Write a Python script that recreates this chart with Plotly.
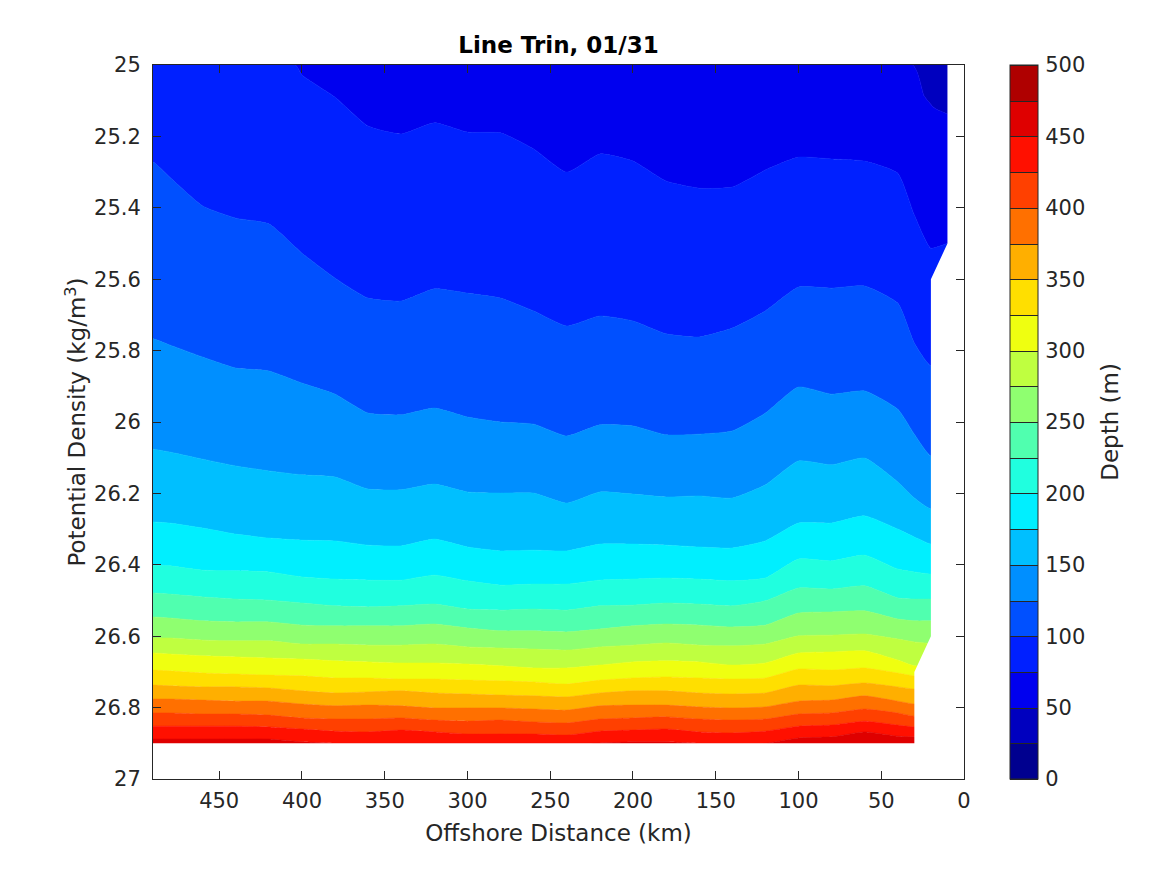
import plotly.graph_objects as go

# Offshore stations (km)
km = [490, 480, 460, 440, 420, 400, 380, 360, 340, 320, 300, 280, 260, 240, 220,
      200, 180, 160, 140, 120, 100, 80, 60, 40, 30, 20, 10]
km_top = [490, 10]
km_50 = [490, 31, 24, 18, 10]
km_75 = [490, 404] + km[5:]

# Potential density of each depth contour at the stations
iso_top = [25.0, 25.0]
iso_50 = [25.0, 25.0, 25.087, 25.12, 25.137]
iso_75 = [25.0, 25.0, 25.028, 25.09, 25.171, 25.193, 25.162, 25.188, 25.19, 25.235, 25.30, 25.249,
          25.269, 25.325, 25.345, 25.342, 25.294, 25.258, 25.263, 25.269, 25.303, 25.42, 25.513, 25.50]
iso_100 = [25.272, 25.314, 25.395, 25.429, 25.445, 25.527, 25.597, 25.653, 25.661, 25.627, 25.639, 25.653, 25.689,
           25.731, 25.703, 25.717, 25.753, 25.762, 25.737, 25.689, 25.622, 25.625, 25.619, 25.667, 25.779, 25.843]
iso_125 = [25.767, 25.784, 25.818, 25.849, 25.857, 25.891, 25.922, 25.975, 25.98, 25.961, 25.986, 26.0, 26.006,
           26.039, 26.008, 26.011, 26.036, 26.034, 26.025, 25.975, 25.902, 25.922, 25.913, 25.964, 26.034, 26.095]
iso_150 = [26.076, 26.084, 26.104, 26.123, 26.137, 26.148, 26.154, 26.188, 26.19, 26.174, 26.196, 26.199, 26.199,
           26.227, 26.196, 26.202, 26.21, 26.207, 26.213, 26.176, 26.109, 26.12, 26.101, 26.168, 26.213, 26.244]
iso_175 = [26.28, 26.283, 26.297, 26.314, 26.325, 26.331, 26.333, 26.345, 26.347, 26.328, 26.35, 26.361, 26.359,
           26.361, 26.342, 26.342, 26.345, 26.35, 26.353, 26.333, 26.283, 26.283, 26.263, 26.30, 26.322, 26.342]
iso_200 = [26.401, 26.403, 26.415, 26.417, 26.42, 26.434, 26.44, 26.443, 26.443, 26.429, 26.445, 26.457, 26.454,
           26.454, 26.443, 26.44, 26.437, 26.44, 26.445, 26.437, 26.384, 26.389, 26.373, 26.412, 26.42, 26.426]
iso_225 = [26.479, 26.482, 26.49, 26.496, 26.499, 26.507, 26.515, 26.518, 26.515, 26.51, 26.524, 26.527, 26.524,
           26.527, 26.515, 26.513, 26.507, 26.51, 26.515, 26.501, 26.465, 26.468, 26.459, 26.493, 26.496, 26.496]
iso_250 = [26.546, 26.549, 26.557, 26.56, 26.56, 26.569, 26.571, 26.571, 26.571, 26.566, 26.577, 26.585, 26.585,
           26.588, 26.58, 26.571, 26.566, 26.569, 26.574, 26.569, 26.535, 26.532, 26.529, 26.552, 26.557, 26.557]
iso_275 = [26.605, 26.605, 26.611, 26.613, 26.613, 26.622, 26.622, 26.625, 26.625, 26.622, 26.63, 26.633, 26.636,
           26.639, 26.63, 26.625, 26.619, 26.625, 26.627, 26.622, 26.599, 26.597, 26.594, 26.608, 26.616, 26.62]
iso_300 = [26.647, 26.65, 26.655, 26.658, 26.661, 26.664, 26.669, 26.672, 26.675, 26.675, 26.678, 26.683, 26.689,
           26.689, 26.681, 26.672, 26.669, 26.672, 26.681, 26.675, 26.647, 26.644, 26.641, 26.667, 26.683]
iso_325 = [26.695, 26.697, 26.703, 26.706, 26.709, 26.711, 26.717, 26.717, 26.72, 26.72, 26.723, 26.725, 26.728,
           26.734, 26.723, 26.717, 26.714, 26.717, 26.72, 26.717, 26.692, 26.695, 26.689, 26.703, 26.711]
iso_350 = [26.737, 26.739, 26.742, 26.742, 26.745, 26.753, 26.759, 26.756, 26.753, 26.759, 26.762, 26.765, 26.767,
           26.77, 26.759, 26.753, 26.753, 26.759, 26.762, 26.759, 26.737, 26.739, 26.731, 26.742, 26.748]
iso_375 = [26.776, 26.776, 26.779, 26.782, 26.782, 26.79, 26.795, 26.793, 26.795, 26.801, 26.801, 26.801, 26.804,
           26.807, 26.795, 26.793, 26.793, 26.798, 26.801, 26.798, 26.782, 26.779, 26.767, 26.782, 26.79]
iso_400 = [26.815, 26.815, 26.818, 26.818, 26.821, 26.829, 26.832, 26.832, 26.829, 26.835, 26.838, 26.835, 26.84,
           26.843, 26.832, 26.829, 26.826, 26.832, 26.835, 26.832, 26.818, 26.815, 26.804, 26.815, 26.824]
iso_425 = [26.852, 26.852, 26.852, 26.852, 26.854, 26.86, 26.866, 26.868, 26.863, 26.868, 26.874, 26.874, 26.874,
           26.877, 26.866, 26.863, 26.86, 26.868, 26.871, 26.866, 26.852, 26.849, 26.838, 26.849, 26.854]
iso_450 = [26.888, 26.888, 26.888, 26.888, 26.888, 26.896, 26.9, 26.9, 26.9, 26.9, 26.9, 26.9, 26.9,
           26.9, 26.899, 26.896, 26.896, 26.9, 26.9, 26.9, 26.885, 26.882, 26.868, 26.88, 26.882]
iso_bottom = [26.95] * 25

# Outline of the part with no data, painted white over the band ends
nodata_km = [10, 10, 20, 20, 30, 30, 500, 500, -5, -5]
nodata_sigma = [25, 25.5, 25.6, 26.6, 26.7, 26.9, 26.9, 27.1, 27.1, 25]

depth_levels = [0, 500]
band_colors = ["#00008f", "#0000bf", "#0000ef", "#0020ff", "#0050ff", "#008fff", "#00bfff",
               "#00efff", "#20ffdf", "#50ffaf", "#8fff70", "#bfff40", "#efff10", "#ffdf00",
               "#ffaf00", "#ff7000", "#ff4000", "#ff1000", "#df0000", "#af0000"]

x_ticks = [450, 400, 350, 300, 250, 200, 150, 100, 50, 0]
y_ticks = [25, 25.2, 25.4, 25.6, 25.8, 26, 26.2, 26.4, 26.6, 26.8, 27]
y_labels = ["25", "25.2", "25.4", "25.6", "25.8", "26", "26.2", "26.4", "26.6", "26.8", "27"]
cb_ticks = [0, 50, 100, 150, 200, 250, 300, 350, 400, 450, 500]

# Contours from shallow to deep, each with its own stations
contours = [
    (km_top, iso_top), (km_50, iso_50), (km_75, iso_75),
    (km, iso_100), (km, iso_125), (km, iso_150), (km, iso_175), (km, iso_200),
    (km, iso_225), (km, iso_250), (km, iso_275), (km, iso_300), (km, iso_325),
    (km, iso_350), (km, iso_375), (km, iso_400), (km, iso_425), (km, iso_450),
    (km, iso_bottom),
]


def band_outline(upper_km, upper, lower_km, lower):
    # Run both contours on past the plot edges so the smoothing rounds off out of sight
    upper_km = [500] + list(upper_km[:len(upper)]) + [-5]
    lower_km = [500] + list(lower_km[:len(lower)]) + [-5]
    upper = [upper[0]] + list(upper) + [upper[-1]]
    lower = [lower[0]] + list(lower) + [lower[-1]]
    return upper_km + lower_km[::-1], upper + lower[::-1]


fig = go.Figure()

# Filled band between every pair of contours, first band is 25-50 m
for i in range(len(contours) - 1):
    xs, ys = band_outline(*contours[i], *contours[i + 1])
    color = band_colors[i + 1]
    fig.add_trace(go.Scatter(x=xs, y=ys, mode="lines", fill="toself", fillcolor=color,
                             line=dict(color=color, width=0.5, shape="spline", smoothing=0.5),
                             showlegend=False, hoverinfo="skip"))

fig.add_trace(go.Scatter(x=nodata_km, y=nodata_sigma, mode="lines", fill="toself", fillcolor="white",
                         line=dict(width=0), showlegend=False, hoverinfo="skip"))

# Off-axis contour, only there to give the stepped colour bar
n = len(band_colors)
scale = []
for i, color in enumerate(band_colors):
    scale += [[i / n, color], [(i + 1) / n, color]]
fig.add_trace(go.Contour(
    x=[-60, -50], y=[25, 27], z=[depth_levels, depth_levels],
    zmin=0, zmax=500, autocontour=False, colorscale=scale,
    contours=dict(start=0, end=500, size=25, coloring="fill"),
    line=dict(color="#262626", width=1), hoverinfo="skip",
    colorbar=dict(
        x=(1010 - 152) / 812, xanchor="left", y=0.5, yanchor="middle", len=1, lenmode="fraction",
        thickness=28, thicknessmode="pixels", xpad=0, ypad=0,
        outlinecolor="#262626", outlinewidth=1,
        tickmode="array", tickvals=cb_ticks, ticks="outside", ticklen=3, tickcolor="white",
        tickfont=dict(size=21, color="#262626"),
    ),
))

axis_style = dict(showgrid=False, zeroline=False, showline=True, linecolor="#262626", linewidth=1,
                  mirror="ticks", ticks="inside", ticklen=8, tickcolor="#262626", tickwidth=1,
                  tickfont=dict(size=21, color="#262626"), layer="above traces")

# Page body adds 8 px on the left and top, so the figure is 8 px smaller
fig.update_layout(
    width=1159, height=867,
    margin=dict(l=145, r=203, t=57, b=96),
    paper_bgcolor="white", plot_bgcolor="white",
    font=dict(family="DejaVu Sans", color="#262626"),
    title=dict(text="Line Trin, 01/31", x=(145 + 956) / 2 / 1159, xanchor="center", y=1 - 37 / 867, yanchor="middle",
               font=dict(size=23, color="black", weight=700)),
    xaxis=dict(range=[490, 0], tickmode="array", tickvals=x_ticks, ticklabelstandoff=3,
               title=dict(text="Offshore Distance (km)", font=dict(size=23, color="#262626"), standoff=12),
               **axis_style),
    yaxis=dict(range=[27, 25], tickmode="array", tickvals=y_ticks, ticktext=y_labels, ticklabelstandoff=7,
               title=dict(text="Potential Density (kg/m<sup>3</sup>)", font=dict(size=23, color="#262626"), standoff=1),
               **axis_style),
    annotations=[dict(text="Depth (m)", textangle=-90, xref="paper", yref="paper", x=(1110 - 152) / 812, y=0.5,
                      xanchor="center", yanchor="middle", showarrow=False, font=dict(size=23, color="#262626"))],
)

fig.write_html("out.html")
